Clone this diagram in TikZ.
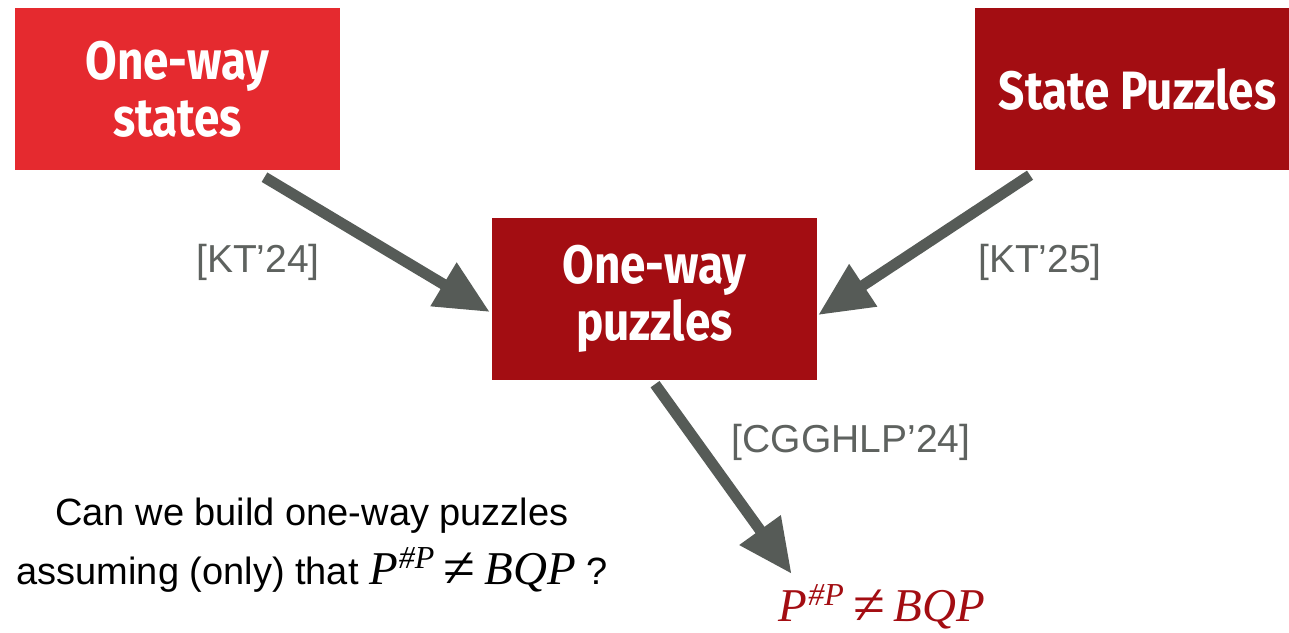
\documentclass[tikz,border=0pt]{standalone}
\usepackage{fontspec}
\setmainfont{Liberation Sans}
\newfontfamily\boxfont[FakeStretch=0.85]{Fira Sans}
\newfontfamily\tms{Liberation Serif}
\usetikzlibrary{arrows.meta}
\definecolor{brightred}{HTML}{E52A2F}
\definecolor{darkred}{HTML}{A30D12}
\definecolor{arrowgray}{HTML}{565B57}
\definecolor{labelgray}{HTML}{5E625F}
\newcommand\pbqp{{\tms\fontsize{47}{50}\selectfont\itshape P\kern1pt\raisebox{16pt}{\fontsize{32}{32}\selectfont\#P}\kern9pt{\upshape\fontsize{58}{50}\selectfont\raisebox{-3pt}{≠}}\kern9pt BQP}}
\begin{document}
\begin{tikzpicture}[x=1pt,y=-1pt,
  box/.style={minimum width=325pt, minimum height=162pt, inner sep=0pt, align=center, text=white,
    font=\boxfont\bfseries\fontsize{54}{57}\selectfont},
  link/.style={draw=arrowgray, line width=11pt, -{Triangle[length=54pt,width=48pt]}},
  reflabel/.style={text=labelgray, font=\fontsize{39}{44}\selectfont}]
\clip (0,0) rectangle (1289,632);
\fill[white] (0,0) rectangle (1289,632);
\node[box, fill=brightred] (ows) at (177.5,89) {One-way\\states};
\node[box, fill=darkred] (owp) at (654.5,299) {One-way\\puzzles};
\node[box, fill=darkred] (sp) at (1137.5,89) {State Puzzles};
\node[anchor=base, text=darkred, inner sep=0pt] (res) at (882,621) {\pbqp};
\draw[link] ([xshift=87pt,yshift=-7pt]ows.south) -- ([xshift=-2pt,yshift=-13pt]owp.west);
\draw[link] ([xshift=-107.5pt,yshift=-5pt]sp.south) -- ([xshift=1pt,yshift=-16pt]owp.east);
\draw[link] ([xshift=0.5pt,yshift=-4pt]owp.south) -- ([xshift=13pt,yshift=10pt]res.north west);
\node[reflabel] (l1) at (258,262) {[KT’24]};
\node[reflabel] (l2) at (1040,262) {[KT’25]};
\node[reflabel] (l3) at (851,442) {[CGGHLP'24]};
\node[align=center, font=\fontsize{38}{59}\selectfont] (q) at (312,545)
  {Can we build one-way puzzles\\assuming (only) that \pbqp\ ?};
\end{tikzpicture}
\end{document}
